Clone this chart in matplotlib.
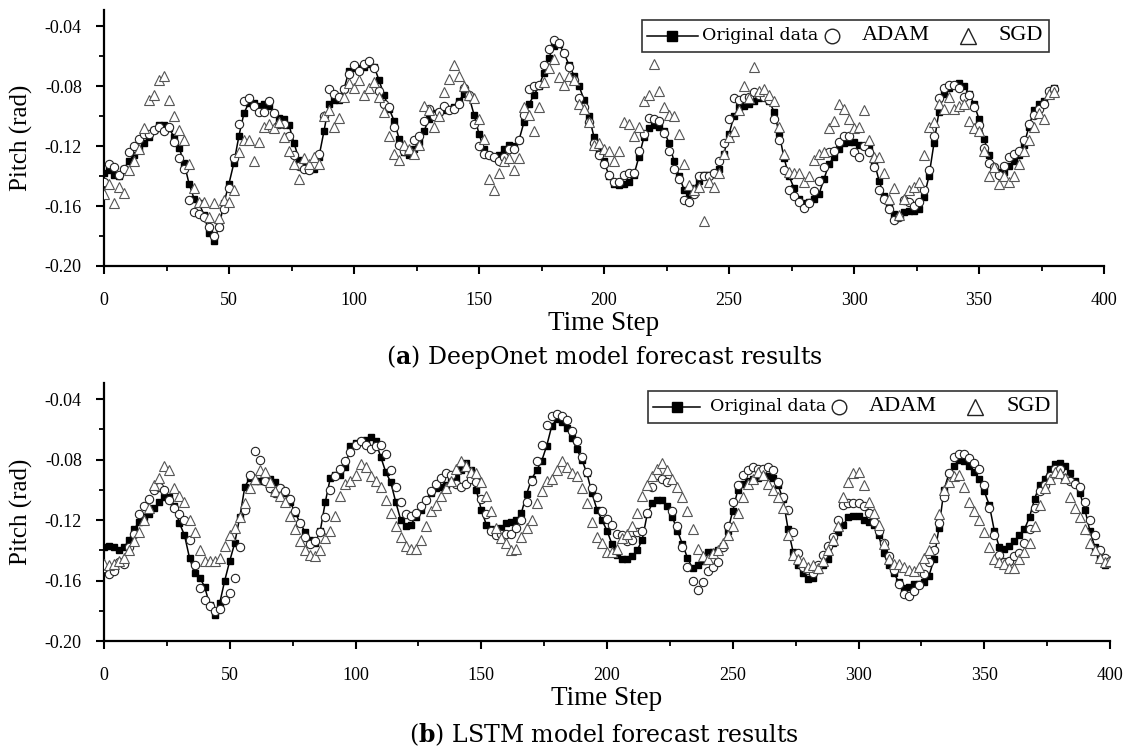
import matplotlib

matplotlib.use("Agg")
import numpy as np
import matplotlib.pyplot as plt
from matplotlib.lines import Line2D
from matplotlib.patches import Rectangle
from matplotlib.ticker import MultipleLocator, FormatStrFormatter

plt.rcParams["font.family"] = ["Liberation Serif", "DejaVu Serif"]
plt.rcParams["axes.unicode_minus"] = False
plt.rcParams["mathtext.fontset"] = "custom"
plt.rcParams["mathtext.rm"] = "DejaVu Serif"
plt.rcParams["mathtext.bf"] = "DejaVu Serif:bold"

CAP_FONT = "DejaVu Serif"   # wide serif, closest to the caption face

# ── Data (pitch in milli-rad, one sample every 2 time steps) ────────────
STEP = 2

# (a) DeepOnet, t = 0..380
top_original = [
    -138, -136, -139, -140, -135, -130, -126, -122, -118, -114,
    -109, -106, -106, -108, -114, -121, -131, -145, -155, -158,
    -166, -178, -183, -174, -158, -145, -131, -113, -98, -91,
    -91, -93, -92, -93, -98, -101, -102, -106, -118, -129,
    -134, -136, -135, -127, -110, -92, -89, -89, -82, -70,
    -68, -68, -67, -65, -67, -76, -86, -95, -103, -115,
    -124, -126, -122, -117, -110, -102, -98, -97, -96, -95,
    -94, -90, -85, -87, -99, -112, -122, -126, -127, -126,
    -122, -119, -120, -116, -104, -92, -86, -80, -71, -61,
    -53, -52, -58, -66, -73, -80, -89, -100, -114, -123,
    -130, -140, -145, -146, -145, -144, -139, -127, -114, -108,
    -106, -107, -110, -118, -130, -140, -149, -152, -148, -143,
    -139, -139, -138, -135, -125, -112, -100, -94, -93, -92,
    -90, -88, -87, -90, -97, -111, -128, -140, -148, -155,
    -158, -157, -155, -152, -142, -132, -127, -122, -118, -117,
    -117, -119, -120, -121, -130, -143, -153, -160, -165, -166,
    -164, -163, -163, -162, -154, -140, -118, -97, -85, -81,
    -79, -78, -80, -85, -92, -102, -115, -126, -134, -137,
    -137, -133, -130, -126, -119, -107, -96, -92, -90, -84,
    -81,
]
top_adam = [
    -144, -132, -134, -139, -135, -124, -120, -115, -112, -112,
    -109, -107, -110, -107, -117, -128, -135, -156, -164, -165,
    -167, -174, -180, -174, -162, -148, -128, -105, -90, -88,
    -93, -97, -97, -90, -98, -105, -105, -113, -126, -133,
    -135, -136, -132, -125, -100, -82, -85, -87, -82, -72,
    -66, -70, -65, -63, -68, -83, -92, -94, -107, -119,
    -123, -123, -116, -113, -103, -95, -100, -97, -93, -96,
    -95, -92, -81, -86, -105, -120, -125, -126, -127, -130,
    -127, -122, -122, -116, -99, -82, -80, -79, -66, -55,
    -49, -51, -58, -67, -76, -88, -94, -104, -118, -126,
    -132, -139, -144, -144, -139, -138, -138, -123, -112, -101,
    -102, -103, -111, -123, -135, -142, -156, -157, -152, -140,
    -140, -140, -138, -130, -118, -102, -88, -89, -88, -87,
    -84, -86, -87, -89, -102, -116, -136, -149, -153, -157,
    -161, -158, -150, -143, -134, -124, -123, -117, -113, -113,
    -124, -127, -120, -124, -134, -149, -155, -162, -169, -167,
    -156, -157, -160, -157, -149, -136, -113, -88, -81, -79,
    -79, -81, -87, -86, -94, -106, -121, -131, -134, -139,
    -133, -127, -125, -123, -116, -105, -99, -95, -92, -83,
    -82,
]
top_sgd = [
    -152, -145, -158, -147, -151, -136, -130, -122, -108, -89,
    -86, -76, -73, -89, -100, -109, -116, -132, -148, -157,
    -157, -167, -158, -168, -156, -157, -149, -124, -116, -116,
    -130, -117, -107, -105, -108, -104, -114, -123, -132, -142,
    -128, -132, -127, -132, -100, -96, -107, -101, -87, -78,
    -81, -76, -86, -81, -77, -87, -97, -113, -125, -129,
    -119, -122, -125, -119, -93, -96, -107, -100, -84, -75,
    -66, -73, -80, -86, -88, -102, -115, -142, -149, -138,
    -130, -128, -136, -128, -94, -99, -110, -94, -77, -68,
    -62, -74, -79, -73, -76, -92, -95, -104, -119, -118,
    -122, -123, -130, -123, -104, -105, -113, -107, -90, -86,
    -65, -83, -94, -99, -100, -112, -132, -146, -149, -147,
    -170, -144, -147, -138, -125, -114, -110, -96, -80, -88,
    -67, -83, -82, -86, -90, -107, -125, -137, -138, -138,
    -144, -140, -129, -125, -124, -108, -103, -92, -95, -102,
    -108, -107, -96, -116, -127, -127, -138, -155, -148, -166,
    -155, -149, -147, -144, -126, -107, -104, -92, -95, -87,
    -95, -93, -92, -103, -108, -110, -123, -140, -134, -145,
    -140, -144, -140, -132, -123, -116, -107, -98, -102, -85,
    -84,
]

# (b) LSTM, t = 0..400
bottom_original = [
    -138, -137, -138, -140, -138, -133, -126, -121, -118, -116,
    -112, -108, -105, -105, -111, -122, -130, -145, -155, -158,
    -164, -176, -183, -175, -160, -147, -135, -118, -98, -92,
    -94, -94, -94, -93, -95, -99, -102, -108, -115, -122,
    -128, -133, -135, -127, -108, -92, -90, -90, -85, -71,
    -69, -68, -67, -65, -68, -78, -88, -95, -108, -120,
    -124, -123, -118, -113, -107, -102, -99, -98, -97, -95,
    -92, -87, -82, -87, -100, -113, -123, -126, -127, -125,
    -122, -121, -120, -115, -103, -93, -87, -81, -71, -58,
    -53, -55, -59, -66, -73, -80, -89, -102, -113, -120,
    -127, -136, -143, -146, -146, -144, -140, -133, -116, -109,
    -107, -107, -111, -118, -127, -136, -145, -152, -150, -147,
    -141, -141, -140, -137, -127, -114, -100, -96, -94, -93,
    -92, -91, -91, -92, -97, -106, -126, -141, -150, -155,
    -159, -158, -153, -150, -146, -135, -128, -123, -118, -117,
    -117, -120, -121, -123, -130, -142, -150, -155, -161, -165,
    -164, -162, -162, -161, -157, -146, -125, -100, -89, -84,
    -80, -81, -84, -88, -93, -101, -110, -127, -138, -139,
    -137, -134, -130, -126, -118, -106, -97, -93, -86, -83,
    -82, -84, -89, -94, -102, -113, -127, -138, -145, -150,
    -147,
]
bottom_adam = [
    -152, -156, -154, -148, -149, -138, -129, -116, -111, -106,
    -100, -98, -100, -107, -112, -116, -120, -133, -150, -165,
    -173, -177, -180, -179, -173, -168, -158, -138, -113, -90,
    -74, -80, -94, -99, -102, -99, -101, -106, -114, -122,
    -131, -136, -134, -128, -118, -100, -91, -86, -81, -75,
    -70, -68, -70, -73, -71, -70, -76, -87, -98, -108,
    -116, -117, -115, -111, -107, -101, -96, -92, -89, -90,
    -96, -98, -96, -93, -95, -106, -116, -127, -130, -129,
    -129, -129, -125, -120, -108, -94, -81, -70, -57, -51,
    -50, -51, -54, -61, -68, -78, -88, -99, -105, -114,
    -119, -123, -129, -130, -134, -133, -128, -127, -115, -98,
    -90, -93, -95, -114, -124, -138, -151, -160, -166, -161,
    -154, -151, -148, -138, -124, -108, -97, -90, -87, -85,
    -86, -86, -85, -87, -95, -105, -113, -128, -142, -151,
    -153, -155, -150, -143, -137, -131, -120, -110, -109, -109,
    -109, -111, -115, -121, -127, -135, -144, -153, -162, -169,
    -170, -167, -163, -156, -148, -140, -122, -105, -89, -78,
    -76, -76, -79, -82, -86, -97, -112, -130, -143, -148,
    -147, -144, -142, -135, -126, -112, -101, -97, -91, -86,
    -86, -92, -94, -96, -98, -108, -120, -130, -140, -145,
    -147,
]
bottom_sgd = [
    -149, -150, -149, -147, -145, -140, -134, -128, -120, -112,
    -97, -92, -84, -87, -99, -104, -108, -120, -128, -140,
    -147, -147, -147, -145, -137, -130, -125, -118, -109, -99,
    -93, -87, -88, -95, -101, -104, -108, -117, -126, -134,
    -140, -143, -144, -140, -132, -127, -117, -104, -96, -94,
    -90, -83, -85, -91, -94, -98, -107, -115, -124, -131,
    -137, -139, -139, -133, -124, -114, -110, -104, -99, -94,
    -86, -81, -84, -88, -89, -95, -104, -114, -125, -132,
    -135, -140, -139, -131, -125, -120, -109, -101, -94, -93,
    -87, -81, -85, -89, -91, -99, -109, -121, -131, -135,
    -141, -141, -139, -132, -129, -124, -115, -104, -97, -91,
    -86, -82, -87, -93, -98, -105, -114, -126, -139, -144,
    -146, -142, -140, -135, -130, -124, -115, -105, -96, -93,
    -88, -90, -96, -100, -105, -112, -130, -143, -146, -148,
    -151, -150, -152, -147, -140, -133, -124, -105, -95, -89,
    -88, -97, -108, -115, -123, -136, -146, -149, -149, -151,
    -153, -154, -151, -145, -140, -132, -116, -100, -95, -91,
    -90, -98, -108, -114, -120, -128, -138, -146, -148, -149,
    -152, -152, -146, -141, -135, -124, -110, -99, -93, -88,
    -89, -92, -105, -112, -118, -126, -135, -140, -145, -148,
    -147,
]

W, H = 1125, 748
fig = plt.figure(figsize=(W / 100, H / 100), dpi=100)


def px_axes(left, top, right, bottom):
    return fig.add_axes([left / W, 1 - bottom / H, (right - left) / W, (bottom - top) / H])


def panel(ax, orig, adam, sgd):
    orig = np.array(orig) / 1000
    adam = np.array(adam) / 1000
    sgd = np.array(sgd) / 1000
    ax.plot(np.arange(len(orig)) * STEP, orig, color="black", lw=1.1,
            marker="s", ms=4.5, mfc="black", mec="black", zorder=3)
    ax.plot(np.arange(len(adam)) * STEP, adam, ls="none", marker="o", ms=6,
            mfc="white", mec="#222222", mew=0.8, zorder=4)
    ax.plot(np.arange(len(sgd)) * STEP, sgd, ls="none", marker="^", ms=6.5,
            mfc="white", mec="#555555", mew=0.8, zorder=5)

    ax.set_xlim(0, 400)
    ax.set_ylim(-0.20, -0.0293)
    for s in ["top", "right"]:
        ax.spines[s].set_visible(False)
    for s in ["left", "bottom"]:
        ax.spines[s].set_linewidth(1.6)
    ax.xaxis.set_major_locator(MultipleLocator(50))
    ax.xaxis.set_minor_locator(MultipleLocator(25))
    ax.yaxis.set_major_locator(MultipleLocator(0.04))
    ax.yaxis.set_minor_locator(MultipleLocator(0.02))
    ax.yaxis.set_major_formatter(FormatStrFormatter("%.2f"))
    ax.tick_params(which="major", direction="out", length=6, width=1.5,
                   labelsize=13)
    ax.tick_params(which="minor", direction="out", length=3.5, width=1.3)
    ax.tick_params(axis="x", pad=13)
    ax.tick_params(axis="y", pad=10)
    ax.set_xlabel("Time Step", fontsize=19.5, labelpad=1)
    ax.set_ylabel("Pitch (rad)", fontsize=18, labelpad=8)


def legend_box(x0, x1, y0, y1, xs):
    """Hand-made legend in pixel coordinates (from top-left)."""
    tf = fig.transFigure
    fx = lambda x: x / W
    fy = lambda y: 1 - y / H
    fig.add_artist(Rectangle((fx(x0), fy(y1)), fx(x1) - fx(x0), fy(y0) - fy(y1),
                             transform=tf, fill=False, ec="#333333", lw=1.2))
    ym = fy((y0 + y1) / 2)
    fig.add_artist(Line2D([fx(xs[0]), fx(xs[2])], [ym, ym], transform=tf,
                          color="black", lw=1.1))
    fig.add_artist(Line2D([fx(xs[1])], [ym], transform=tf, marker="s", ms=7,
                          color="black", ls="none"))
    fig.text(fx(xs[3]), ym, "Original data", fontsize=12.5, family=CAP_FONT,
             ha="left", va="center")
    fig.add_artist(Line2D([fx(xs[4])], [ym], transform=tf, marker="o", ms=10.5,
                          mfc="white", mec="#222222", mew=1.0, ls="none"))
    fig.text(fx(xs[5]), ym, "ADAM", fontsize=16, ha="left", va="center")
    fig.add_artist(Line2D([fx(xs[6])], [ym], transform=tf, marker="^", ms=11.5,
                          mfc="white", mec="#222222", mew=1.0, ls="none"))
    fig.text(fx(xs[7]), ym, "SGD", fontsize=16, ha="left", va="center")


ax1 = px_axes(104, 10, 1104, 266)
panel(ax1, top_original, top_adam, top_sgd)
legend_box(642, 1049, 20, 52, [647, 672, 698, 702, 832, 862, 968, 999])
fig.text(604 / W, 1 - 357 / H, r"($\mathbf{a}$) DeepOnet model forecast results",
         fontsize=17, family=CAP_FONT, ha="center", va="center")

ax2 = px_axes(104, 383, 1110, 641)
panel(ax2, bottom_original, bottom_adam, bottom_sgd)
legend_box(648, 1057, 391, 423, [653, 677, 700, 710, 839, 869, 975, 1007])
fig.text(604 / W, 1 - 735 / H, r"($\mathbf{b}$) LSTM model forecast results",
         fontsize=17, family=CAP_FONT, ha="center", va="center")

fig.savefig("out.png", dpi=100)
